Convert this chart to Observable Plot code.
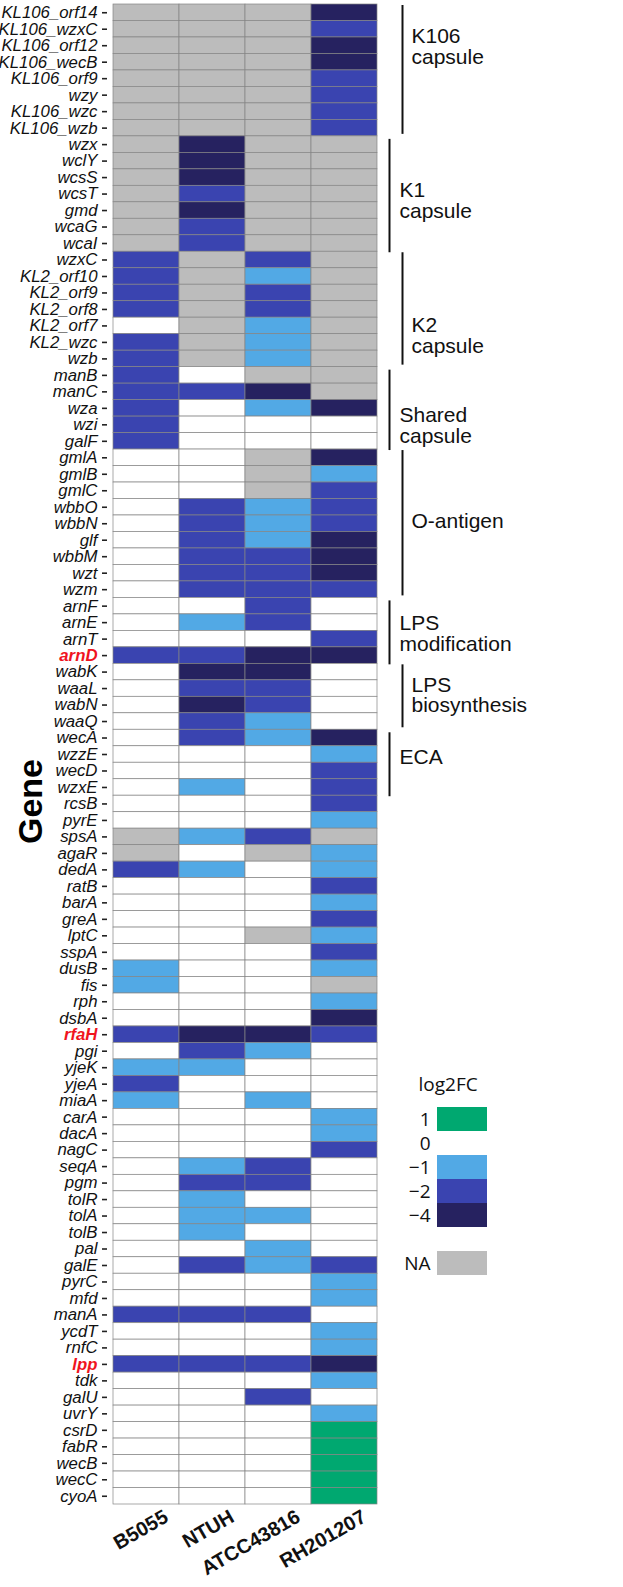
<!DOCTYPE html>
<html><head><meta charset="utf-8">
<script src="https://cdn.jsdelivr.net/npm/d3@7"></script>
<script src="https://cdn.jsdelivr.net/npm/@observablehq/plot@0.6"></script>
<style>
body{margin:0;background:#fff;}
#wrap{position:relative;width:623px;height:1587px;}
#legend{position:absolute;left:390px;top:1066px;}
</style></head><body><div id="wrap"><div id="main"></div><div id="legend"></div></div>
<script>
const strains = ["B5055","NTUH","ATCC43816","RH201207"];
const genes = ["KL106_orf14","KL106_wzxC","KL106_orf12","KL106_wecB","KL106_orf9","wzy","KL106_wzc","KL106_wzb",
"wzx","wclY","wcsS","wcsT","gmd","wcaG","wcaI",
"wzxC","KL2_orf10","KL2_orf9","KL2_orf8","KL2_orf7","KL2_wzc","wzb",
"manB","manC","wza","wzi","galF",
"gmlA","gmlB","gmlC","wbbO","wbbN","glf","wbbM","wzt","wzm",
"arnF","arnE","arnT","arnD",
"wabK","waaL","wabN","waaQ",
"wecA","wzzE","wecD","wzxE",
"rcsB","pyrE","spsA","agaR","dedA","ratB","barA","greA","lptC","sspA","dusB","fis","rph","dsbA",
"rfaH","pgi","yjeK","yjeA","miaA","carA","dacA","nagC","seqA","pgm","tolR","tolA","tolB","pal",
"galE","pyrC","mfd","manA","ycdT","rnfC","lpp","tdk","galU","uvrY","csrD","fabR","wecB","wecC","cyoA"];
const N = null; // not available
const B5055 = [N,N,N,N,N,N,N,N, N,N,N,N,N,N,N, -2,-2,-2,-2,0,-2,-2, -2,-2,-2,-2,-2, 0,0,0,0,0,0,0,0,0, 0,0,0,-2, 0,0,0,0, 0,0,0,0,
 0,0,N,N,-2,0,0,0,0,0,-1,-1,0,0, -2,0,-1,-2,-1,0,0,0,0,0,0,0,0,0, 0,0,0,-2,0,0,-2,0,0,0,0,0,0,0,0];
const NTUH = [N,N,N,N,N,N,N,N, -4,-4,-4,-2,-4,-2,-2, N,N,N,N,N,N,N, 0,-2,0,0,0, 0,0,0,-2,-2,-2,-2,-2,-2, 0,-1,0,-2, -4,-2,-4,-2, -2,0,0,-1,
 0,0,-1,0,-1,0,0,0,0,0,0,0,0,0, -4,-2,-1,0,0,0,0,0,-1,-2,-1,-1,-1,0, -2,0,0,-2,0,0,-2,0,0,0,0,0,0,0,0];
const ATCC43816 = [N,N,N,N,N,N,N,N, N,N,N,N,N,N,N, -2,-1,-2,-2,-1,-1,-1, N,-4,-1,0,0, N,N,N,-1,-1,-1,-2,-2,-2, -2,-2,0,-4, -4,-2,-2,-1, -1,0,0,0,
 0,0,-2,N,0,0,0,0,N,0,0,0,0,0, -4,-1,0,0,-1,0,0,0,-2,-2,0,-1,0,-1, -1,0,0,-2,0,0,-2,0,-2,0,0,0,0,0,0];
const RH201207 = [-4,-2,-4,-4,-2,-2,-2,-2, N,N,N,N,N,N,N, N,N,N,N,N,N,N, N,N,-4,0,0, -4,-1,-2,-2,-2,-4,-4,-4,-2, 0,0,-2,-4, 0,0,0,0, -4,-1,-2,-2,
 -2,-1,N,-1,-1,-2,-1,-2,-1,-2,-1,N,-1,-4, -2,0,0,0,0,-1,-1,-2,0,0,0,0,0,0, -2,-1,-1,0,-1,-1,-4,-1,0,-1,1,1,1,1,1];
const highlighted = ["arnD","rfaH","lpp"];
const groups = [
  {label: "K106\ncapsule", from: "KL106_orf14", to: "KL106_wzb"},
  {label: "K1\ncapsule", from: "wzx", to: "wcaI"},
  {label: "K2\ncapsule", from: "wzxC", to: "wzb"},
  {label: "Shared\ncapsule", from: "manB", to: "galF"},
  {label: "O-antigen", from: "gmlA", to: "wzm"},
  {label: "LPS\nmodification", from: "arnF", to: "arnD"},
  {label: "LPS\nbiosynthesis", from: "wabK", to: "waaQ"},
  {label: "ECA", from: "wecA", to: "wzxE"}
];
// label placement (layout): row to center on and pixel nudge
const groupLabelAt = [["KL106_orf12", 1], ["wcsT", 7], ["KL2_orf7", 10], ["wzi", 1], ["wbbN", -2], ["arnT", -5], ["waaL", 7], ["wzzE", 3]];
const colorCodes = ["1","0","-1","-2","-4","NA"];
const colorValues = ["#00a870","#ffffff","#52a9e5","#3a44b0","#262260","#bcbcbc"];
const legendSlots = ["1","0","-1","-2","-4","gap","NA"];
const legendText = ["1","0","\u22121","\u22122","\u22124","","NA"];

const series = {B5055, NTUH, ATCC43816, RH201207};
const code = v => v == null ? "NA" : String(v);
const cells = genes.flatMap((g, i) => strains.map(s => ({gene: g, strain: s, v: code(series[s][i])})));
const font = "'Liberation Sans', Arial, Helvetica, sans-serif";

const groupMarks = groups.map((g, i) => {
  const outer = i % 2 === 0;
  return Plot.text([g], {y: () => groupLabelAt[i][0], text: "label", frameAnchor: "right", textAnchor: "start",
      dx: outer ? 33 : 21, dy: groupLabelAt[i][1], fontSize: 21, lineHeight: 0.98, fill: "#111"});
});

const chart = Plot.plot({
  width: 623, height: 1587,
  marginLeft: 112, marginRight: 245, marginTop: 4, marginBottom: 83,
  style: {fontFamily: font, background: "#fff", overflow: "visible"},
  x: {domain: strains, axis: null, padding: 0},
  y: {domain: genes, axis: null, padding: 0},
  color: {type: "ordinal", domain: colorCodes, range: colorValues},
  marks: [
    Plot.cell(cells, {x: "strain", y: "gene", fill: "v", stroke: "#858585", strokeWidth: 0.7}),
    Plot.axisY({tickSize: 5, tickFormat: () => "", label: null, dx: -5, stroke: "#222", strokeWidth: 1.6}),
    Plot.text(genes.filter(g => !highlighted.includes(g)), {y: d => d, frameAnchor: "left", textAnchor: "end",
      dx: -15, fontSize: 16.8, fontStyle: "italic", fill: "#111"}),
    Plot.text(highlighted, {y: d => d, frameAnchor: "left", textAnchor: "end",
      dx: -15, fontSize: 16.8, fontStyle: "italic", fontWeight: "bold", fill: "#f0141e"}),
    Plot.text(strains, {x: d => d, frameAnchor: "bottom", textAnchor: "end", lineAnchor: "top",
      rotate: -30, dx: 16, dy: 4, fontSize: 20, fontWeight: "bold", fill: "#111"}),
    Plot.text(["Gene"], {frameAnchor: "left", textAnchor: "middle", lineAnchor: "middle", rotate: -90, dx: -81, dy: 47, fontSize: 34, fontWeight: "bold", fill: "#000"}),
    Plot.ruleX(groups.filter((d, i) => i % 2 === 0), {x: null, y1: "from", y2: "to", dx: 157, insetTop: 1, insetBottom: 2, stroke: "#111", strokeWidth: 2}),
    Plot.ruleX(groups.filter((d, i) => i % 2 === 1), {x: null, y1: "from", y2: "to", dx: 144, insetTop: 3, insetBottom: -1, stroke: "#111", strokeWidth: 2}),
    ...groupMarks
  ]
});
document.getElementById("main").appendChild(chart);

const legendData = legendSlots.map((s, i) => ({slot: s, text: legendText[i]}));
const legend = Plot.plot({
  width: 110, height: 214,
  marginLeft: 47, marginRight: 13, marginTop: 40, marginBottom: 5,
  style: {fontFamily: "'Open Sans', 'Liberation Sans', sans-serif", background: "transparent", overflow: "visible"},
  x: {domain: ["swatch"], axis: null, padding: 0},
  y: {domain: legendSlots, axis: null, padding: 0},
  color: {type: "ordinal", domain: colorCodes, range: colorValues},
  marks: [
    Plot.cell(legendData.filter(d => d.slot !== "gap"), {x: () => "swatch", y: "slot", fill: d => d.slot}),
    Plot.text(legendData.filter(d => d.text), {y: "slot", text: "text", frameAnchor: "left", textAnchor: "end", dx: -7, fontSize: 19, fill: "#111"}),
    Plot.text(["log2FC"], {frameAnchor: "top-left", textAnchor: "start", lineAnchor: "middle", dx: -19, dy: -22, fontSize: 19, fill: "#111"})
  ]
});
document.getElementById("legend").appendChild(legend);
</script></body></html>
